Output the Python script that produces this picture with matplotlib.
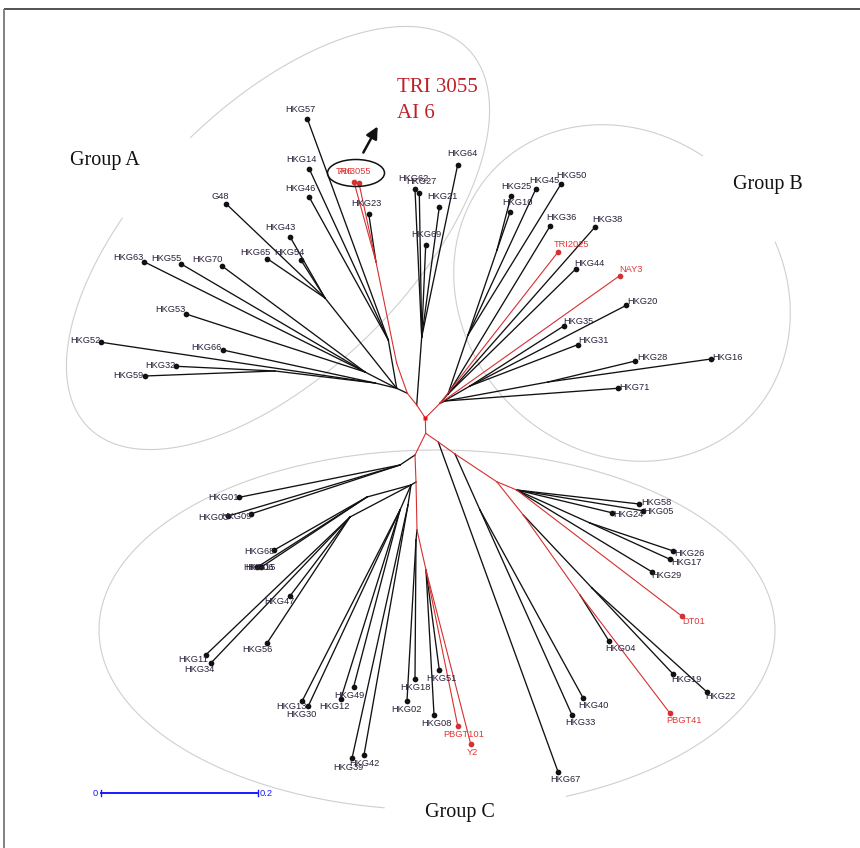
import matplotlib
matplotlib.use("Agg")
import matplotlib.pyplot as plt
import numpy as np
from matplotlib.patches import Ellipse

# ---------------------------------------------------------------- tree data
# internal nodes (tree layout units, y grows downward)
node_names = ["R",
              "a1", "gN", "a2", "a3", "a4", "aK", "aM", "aG", "aU", "aL", "aL2",
              "b0", "bK", "bK2", "bT", "bU", "bU2", "bU3",
              "c0", "cL", "cA", "cM", "cB", "cB1", "cB2", "cB3", "cB4", "cR1", "cC",
              "cR", "cI1", "cI2", "cH", "cD", "cE", "cE2", "cF", "cF1", "cG"]
node_x = [425.3,
          416.7, 421.7, 407.3, 396.7, 376.0, 396.7, 388.3, 325.0, 365.0, 375.0, 275.0,
          440.0, 445.0, 548.0, 470.0, 448.0, 468.0, 497.0,
          425.7, 415.0, 400.0, 416.0, 411.0, 367.0, 350.0, 400.0, 408.0, 417.0, 416.0,
          426.0, 438.3, 455.0, 480.0, 496.7, 516.7, 590.0, 523.3, 592.0, 580.0]
node_y = [418.0,
          405.0, 337.0, 393.3, 363.3, 262.0, 388.3, 340.0, 298.0, 372.0, 383.0, 371.0,
          403.3, 401.0, 382.0, 386.0, 394.0, 335.0, 250.0,
          433.3, 455.0, 465.0, 482.0, 485.0, 497.0, 517.0, 510.0, 505.0, 530.0, 540.0,
          570.0, 442.0, 454.0, 510.0, 481.7, 490.0, 523.0, 515.0, 588.0, 595.0]
node_parent = [None,
               "R", "a1", "a1", "a2", "a3", "a2", "aK", "aK", "aK", "aK", "aL",
               "R", "b0", "bK", "b0", "b0", "bU", "bU2",
               "R", "c0", "cL", "cL", "cM", "cB", "cB", "cB", "cB", "cM", "cR1",
               "cR1", "c0", "cI1", "cI2", "cI2", "cD", "cE", "cD", "cF", "cF"]
node_red = [True,
            True, False, True, True, True, False, False, False, False, False, False,
            True, False, False, False, False, False, False,
            True, True, False, True, False, False, False, False, False, True, False,
            True, True, True, False, True, True, False, True, False, True]

# leaves
leaf_names = ["HKG57", "HKG14", "HKG46", "TRI3055", "AI6", "HKG23", "G48", "HKG43",
              "HKG65", "HKG54", "HKG63", "HKG55", "HKG70", "HKG53", "HKG52", "HKG66",
              "HKG32", "HKG59", "HKG62", "HKG27", "HKG69", "HKG21", "HKG64",
              "HKG25", "HKG10", "HKG45", "HKG50", "HKG36", "HKG38", "HKG44", "TRI2025",
              "NAY3", "HKG20", "HKG35", "HKG31", "HKG28", "HKG16", "HKG71",
              "HKG01", "HKG03", "HKG09", "HKG68", "HKG06", "HKG15", "HKG47", "HKG56",
              "HKG11", "HKG34", "HKG13", "HKG30", "HKG49", "HKG12", "HKG39", "HKG42",
              "HKG18", "HKG02", "HKG51", "HKG08", "PBGT101", "Y2", "HKG58", "HKG05",
              "HKG24", "HKG26", "HKG17", "HKG29", "DT01", "HKG04", "PBGT41", "HKG19",
              "HKG22", "HKG40", "HKG33", "HKG67"]
leaf_x = [307.3, 309.3, 309.3, 354.0, 359.0, 368.7, 226.3, 290.0,
          267.3, 300.7, 144.0, 180.7, 222.0, 186.0, 101.3, 222.7,
          176.3, 145.0, 415.0, 419.3, 425.7, 439.3, 457.7,
          511.0, 510.0, 535.7, 561.0, 550.3, 595.0, 575.7, 558.0,
          619.7, 626.3, 563.7, 577.7, 635.3, 711.0, 617.7,
          239.3, 228.3, 250.7, 274.3, 257.0, 261.0, 290.0, 267.3,
          206.0, 210.7, 302.3, 308.3, 353.7, 340.7, 352.0, 364.0,
          415.0, 407.0, 439.3, 434.0, 457.7, 470.7, 639.3, 642.7,
          611.7, 673.3, 670.0, 651.7, 681.7, 609.0, 670.0, 673.3,
          707.3, 583.3, 572.0, 558.0]
leaf_y = [118.7, 169.0, 197.3, 182.0, 183.3, 213.7, 204.0, 236.7,
          258.7, 259.7, 261.7, 263.7, 266.0, 314.0, 342.3, 350.0,
          366.3, 376.0, 189.3, 192.7, 245.0, 207.0, 164.7,
          196.3, 212.3, 189.3, 184.0, 225.7, 227.0, 269.0, 252.0,
          275.7, 305.3, 326.0, 344.7, 361.0, 359.0, 388.3,
          497.3, 516.0, 514.0, 550.0, 567.3, 567.3, 596.0, 642.7,
          654.7, 663.3, 700.7, 706.0, 686.7, 699.3, 758.3, 755.0,
          678.7, 700.7, 670.0, 714.7, 725.7, 744.0, 504.0, 510.7,
          512.7, 551.0, 559.3, 571.7, 616.0, 641.0, 713.3, 674.3,
          692.3, 698.3, 715.0, 771.7]
leaf_parent = ["aM", "aM", "aM", "a4", "a4", "a4", "aG", "aG",
               "aG", "aG", "aU", "aU", "aU", "aU", "aL", "aL",
               "aL2", "aL2", "gN", "gN", "gN", "gN", "gN",
               "bU3", "bU3", "bU2", "bU2", "bU", "bU", "bU", "b0",
               "b0", "bT", "bT", "bT", "bK2", "bK2", "bK",
               "cA", "cA", "cA", "cB1", "cB1", "cB1", "cB2", "cB2",
               "cB2", "cB2", "cB3", "cB3", "cB3", "cB3", "cB4", "cB4",
               "cC", "cC", "cR", "cR", "cR", "cR", "cE", "cE",
               "cE", "cE2", "cE2", "cE", "cE", "cG", "cG", "cF1",
               "cF1", "cH", "cH", "cI1"]
red_leaves = {"TRI3055", "AI6", "TRI2025", "NAY3", "PBGT101", "Y2", "DT01", "PBGT41"}

# label centres
label_x = [300.7, 301.7, 300.0, 354.0, 346.0, 366.0, 220.0, 280.0,
           255.0, 289.3, 128.3, 166.0, 207.7, 170.7, 85.0, 206.7,
           160.7, 128.3, 413.0, 421.7, 426.7, 442.3, 462.3,
           516.7, 517.3, 544.0, 571.0, 561.0, 607.3, 589.0, 571.7,
           631.0, 642.7, 578.3, 593.3, 652.0, 727.3, 634.0,
           223.3, 213.3, 236.7, 259.0, 258.0, 260.0, 279.0, 257.3,
           193.3, 199.0, 291.7, 301.0, 349.0, 334.0, 348.3, 364.0,
           415.0, 406.7, 441.7, 436.7, 463.3, 472.7, 656.0, 658.3,
           628.3, 689.3, 686.0, 666.7, 693.3, 620.0, 684.0, 686.0,
           720.7, 593.3, 580.0, 565.7]
label_y = [109.0, 159.0, 188.7, 172.0, 172.0, 203.3, 196.7, 228.0,
           252.3, 252.3, 257.7, 258.7, 260.0, 310.0, 340.3, 347.0,
           365.3, 375.7, 178.7, 182.0, 234.7, 196.7, 154.0,
           186.7, 202.7, 180.7, 176.0, 217.0, 219.3, 263.3, 244.3,
           270.0, 301.7, 321.0, 340.7, 358.0, 357.0, 387.7,
           497.7, 517.7, 516.7, 552.0, 567.3, 567.3, 602.0, 650.0,
           659.3, 669.3, 706.7, 714.3, 695.3, 706.7, 767.7, 763.3,
           688.0, 709.3, 678.7, 724.0, 734.7, 752.7, 502.3, 511.7,
           514.3, 553.3, 562.3, 575.3, 621.7, 648.3, 720.7, 680.0,
           696.7, 705.0, 722.7, 780.0]

# group outlines: centre, semi-axes, rotation (deg, screen), gap (deg)
group_names = ["Group A", "Group B", "Group C"]
group_cx = [278.0, 622.0, 437.0]
group_cy = [238.0, 293.0, 630.0]
group_a = [268.0, 178.0, 338.0]
group_b = [133.0, 158.0, 180.0]
group_rot = [-45.0, 45.0, 0.0]
group_gap = [(-111.0, -88.0), (-103.0, -66.0), (67.5, 99.0)]
group_label_xy = [(105, 160), (768, 184), (460, 813)]

scale_value = 0.2

# ---------------------------------------------------------------- drawing
W, H = 860, 848
RED = "#d63030"
BLACK = "#111111"

fig = plt.figure(figsize=(W / 100, H / 100), dpi=100)
ax = fig.add_axes([0, 0, 1, 1])
ax.set_xlim(0, W)
ax.set_ylim(H, 0)
ax.axis("off")

# frame
ax.plot([4, W], [9, 9], color="#444444", lw=1.3, solid_capstyle="butt")
ax.plot([4, 4], [9, H], color="#777777", lw=1.3, solid_capstyle="butt")

# group outlines
for cx, cy, a, b, rot, gap in zip(group_cx, group_cy, group_a, group_b,
                                  group_rot, group_gap):
    t = np.radians(np.linspace(gap[1], gap[0] + 360, 600))
    r = np.radians(rot)
    ux, uy = np.cos(r), np.sin(r)
    vx, vy = -np.sin(r), np.cos(r)
    px = cx + a * np.cos(t) * ux + b * np.sin(t) * vx
    py = cy + a * np.cos(t) * uy + b * np.sin(t) * vy
    ax.plot(px, py, color="#cfcfcf", lw=0.8, zorder=1)

for name, (gx, gy) in zip(group_names, group_label_xy):
    ax.text(gx, gy, name, family=["Liberation Serif", "DejaVu Serif"],
            fontsize=14.5, ha="center", va="center", color="#111111")

# branches
pos = {n: (x, y) for n, x, y in zip(node_names, node_x, node_y)}
for n, p, red in zip(node_names, node_parent, node_red):
    if p is None:
        continue
    (x0, y0), (x1, y1) = pos[p], pos[n]
    ax.plot([x0, x1], [y0, y1], color=RED if red else BLACK,
            lw=0.8 if red else 0.95, zorder=3 if red else 2)

label_font = ["Liberation Sans Narrow", "Liberation Sans", "DejaVu Sans"]
for name, x, y, p, lx, ly in zip(leaf_names, leaf_x, leaf_y, leaf_parent,
                                 label_x, label_y):
    red = name in red_leaves
    c = RED if red else BLACK
    x0, y0 = pos[p]
    ax.plot([x0, x], [y0, y], color=c, lw=0.8 if red else 0.95,
            zorder=3 if red else 2)
    ax.plot(x, y, "o", color=c, ms=4.1, mec="none", zorder=4)
    ax.text(lx, ly, name, family=label_font, fontsize=6.7, ha="center",
            va="center", color="#e03838" if red else "#2a1f3a", zorder=5)

# root marker
rx, ry = pos["R"]
ax.plot(rx, ry, "s", color="#ee1111", ms=2.8, mec="none", zorder=6)

# highlighted pair
ax.add_patch(Ellipse((356, 173), 57, 27, fill=False, ec=BLACK, lw=1.1, zorder=6))
ax.annotate("", xy=(379, 124), xytext=(362, 155),
            arrowprops=dict(arrowstyle="-|>,head_length=0.7,head_width=0.35",
                            color=BLACK, lw=1.8), zorder=6)
ax.text(397, 88, "TRI 3055", family=["Liberation Serif", "DejaVu Serif"],
        fontsize=15, color="#c01f28", ha="left", va="center")
ax.text(397, 113, "AI 6", family=["Liberation Serif", "DejaVu Serif"],
        fontsize=15, color="#c01f28", ha="left", va="center")

# scale bar (0.2 substitutions per site)
sx0, sx1, sy = 101, 258, 793
ax.plot([sx0, sx1], [sy, sy], color="#1a1aff", lw=1.4)
ax.plot([sx0, sx0], [sy - 3, sy + 3], color="#1a1aff", lw=1.0)
ax.plot([sx1, sx1], [sy - 3, sy + 3], color="#1a1aff", lw=1.0)
ax.text(sx0 - 3, sy, "0", family=label_font, fontsize=6.7, color="#1a1aff",
        ha="right", va="center")
ax.text(sx1 + 2, sy, f"{scale_value:g}", family=label_font, fontsize=6.7,
        color="#1a1aff", ha="left", va="center")

fig.savefig("out.png", dpi=100)
